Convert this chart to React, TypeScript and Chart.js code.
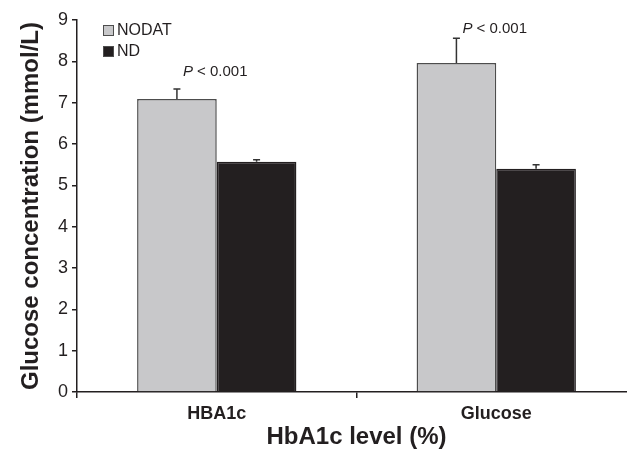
import React, { useEffect, useRef } from "react";
import { Chart, registerables } from "chart.js";

Chart.register(...registerables);

const categories = ["HBA1c", "Glucose"];
const seriesNames = ["NODAT", "ND"];
const nodatValues = [7.09, 7.96];
const ndValues = [5.57, 5.4];
const nodatErrors = [0.24, 0.6];
const ndErrors = [0.05, 0.1];
const pLabels = ["P < 0.001", "P < 0.001"];
const pLabelLevels = [7.74, 8.78];
const yTicks = [0, 1, 2, 3, 4, 5, 6, 7, 8, 9];

const FONT = "'Liberation Sans', Arial, Helvetica, sans-serif";
const TEXT = "#231f20";
const GRAY = "#c8c8ca";
const BLACK = "#231f20";

const errorPlugin = {
  id: "errorAndNotes",
  afterDatasetsDraw(chart: any) {
    const ctx = chart.ctx;
    const yScale = chart.scales.y;
    const errs = [nodatErrors, ndErrors];
    ctx.save();
    ctx.strokeStyle = "#333333";
    ctx.lineWidth = 1.5;
    chart.data.datasets.forEach((ds: any, i: number) => {
      const meta = chart.getDatasetMeta(i);
      meta.data.forEach((bar: any, j: number) => {
        const v = ds.data[j];
        const top = yScale.getPixelForValue(v + errs[i][j]);
        const base = yScale.getPixelForValue(v);
        ctx.beginPath();
        ctx.moveTo(bar.x, base);
        ctx.lineTo(bar.x, top);
        ctx.moveTo(bar.x - 3.5, top);
        ctx.lineTo(bar.x + 3.5, top);
        ctx.stroke();
      });
    });
    // P labels
    const meta0 = chart.getDatasetMeta(0);
    ctx.fillStyle = TEXT;
    ctx.textBaseline = "middle";
    ctx.textAlign = "left";
    meta0.data.forEach((bar: any, j: number) => {
      const y = yScale.getPixelForValue(pLabelLevels[j]);
      let x = bar.x + 6;
      const parts = pLabels[j].split(" ");
      ctx.font = `italic 15px ${FONT}`;
      ctx.fillText(parts[0], x, y);
      x += ctx.measureText(parts[0] + " ").width;
      ctx.font = `15px ${FONT}`;
      ctx.fillText(parts.slice(1).join(" "), x, y);
    });
    // legend
    const area = chart.chartArea;
    chart.data.datasets.forEach((ds: any, i: number) => {
      const bx = area.left + 26;
      const by = area.top + 5 + i * 21;
      ctx.fillStyle = ds.backgroundColor;
      ctx.fillRect(bx, by, 11, 11);
      ctx.strokeStyle = "#4d4d4d";
      ctx.lineWidth = 1;
      ctx.strokeRect(bx + 0.5, by + 0.5, 10, 10);
      ctx.fillStyle = TEXT;
      ctx.font = `16px ${FONT}`;
      ctx.textBaseline = "middle";
      ctx.fillText(ds.label, bx + 14, by + 6);
    });
    ctx.restore();
  },
};

export default function App() {
  const ref = useRef<HTMLCanvasElement>(null);
  useEffect(() => {
    document.body.style.margin = "0";
    const chart = new Chart(ref.current as HTMLCanvasElement, {
      type: "bar",
      data: {
        labels: categories,
        datasets: [
          {
            label: seriesNames[0],
            data: nodatValues,
            backgroundColor: GRAY,
            borderColor: "#4d4d4d",
            borderWidth: 1.5,
            categoryPercentage: 0.57,
            barPercentage: 1,
          },
          {
            label: seriesNames[1],
            data: ndValues,
            backgroundColor: BLACK,
            borderColor: BLACK,
            borderWidth: 1.5,
            categoryPercentage: 0.57,
            barPercentage: 1,
          },
        ],
      },
      options: {
        animation: false,
        responsive: true,
        maintainAspectRatio: false,
        layout: { padding: { top: 20, right: 4, left: 0, bottom: 0 } },
        plugins: { legend: { display: false }, tooltip: { enabled: false } },
        scales: {
          x: {
            grid: {
              offset: true,
              drawOnChartArea: false,
              drawTicks: true,
              tickLength: 6,
              color: TEXT,
              lineWidth: 1.5,
            },
            border: { color: TEXT, width: 1.5 },
            ticks: {
              color: TEXT,
              font: { family: FONT, size: 18, weight: "bold" },
              padding: 5,
            },
            title: {
              display: true,
              text: "HbA1c level (%)",
              color: TEXT,
              font: { family: FONT, size: 24, weight: "bold", lineHeight: 1.1 },
              padding: { top: 0, bottom: 0 },
            },
            afterFit: (s: any) => {
              s.height = 59;
            },
          },
          y: {
            min: 0,
            max: 9,
            afterBuildTicks: (s: any) => {
              s.ticks = yTicks.map((v) => ({ value: v }));
            },
            grid: {
              drawOnChartArea: false,
              drawTicks: true,
              tickLength: 5,
              color: TEXT,
              lineWidth: 1.5,
            },
            border: { color: TEXT, width: 1.5 },
            ticks: {
              color: TEXT,
              font: { family: FONT, size: 18 },
              padding: 4,
            },
            title: {
              display: true,
              text: "Glucose concentration (mmol/L)",
              color: TEXT,
              font: { family: FONT, size: 24, weight: "bold" },
              padding: { top: 17, bottom: 0 },
            },
            afterFit: (s: any) => {
              s.width = 77;
            },
          },
        },
      },
      plugins: [errorPlugin],
    } as any);
    return () => chart.destroy();
  }, []);
  return (
    <div style={{ width: 627, height: 451, overflow: "hidden", position: "relative" }}>
      <div style={{ width: 640, height: 451, position: "relative" }}>
        <canvas ref={ref} />
      </div>
    </div>
  );
}
